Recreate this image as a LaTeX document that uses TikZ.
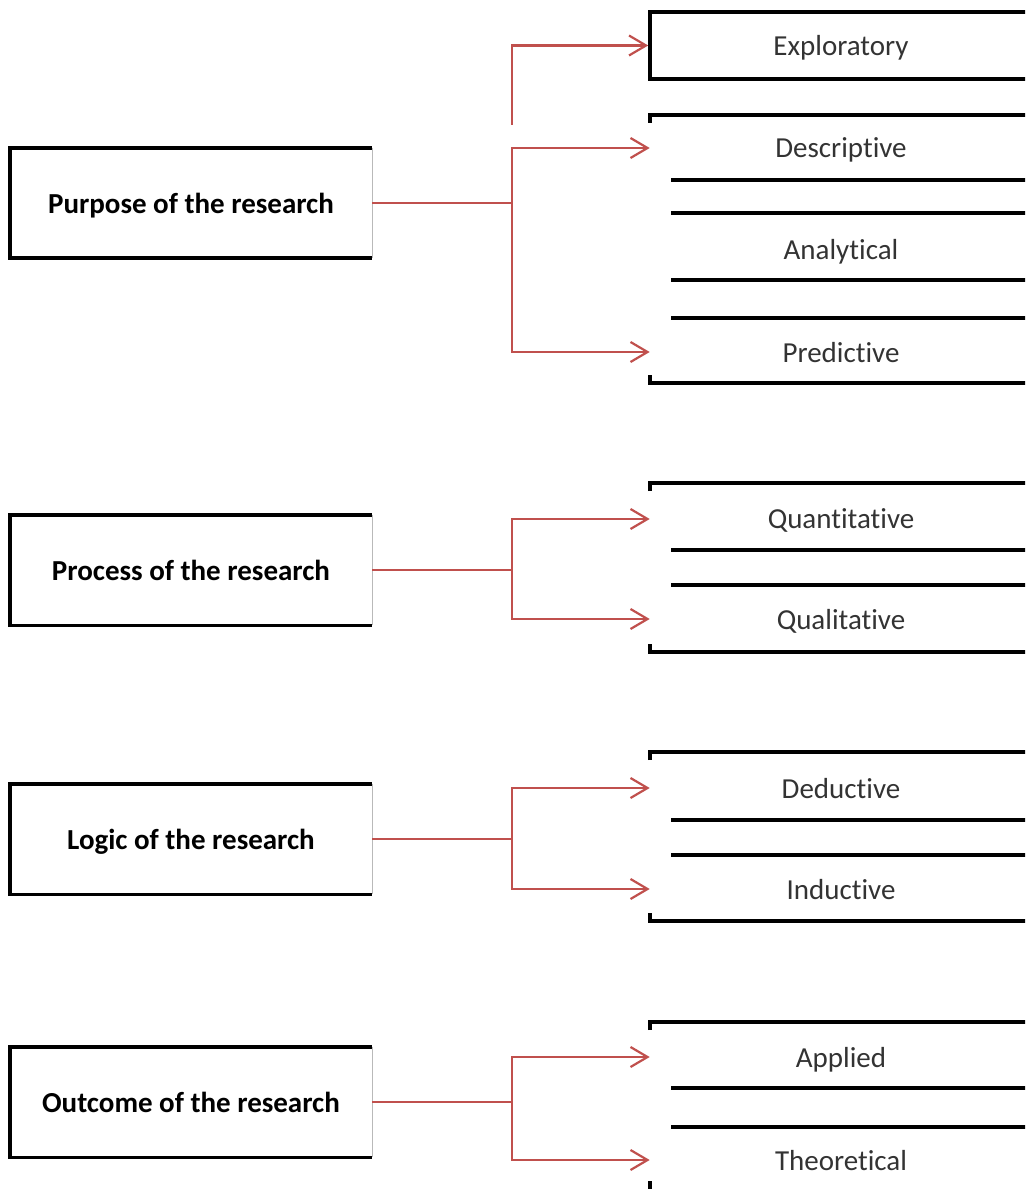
\documentclass[tikz,border=0pt]{standalone}
\usepackage{fontspec}
\setmainfont{Carlito}[RawFeature={-liga;-calt;-clig}]
\usepackage{xcolor}
\usepackage{tikz}
\usetikzlibrary{arrows.meta,positioning}
\definecolor{link}{HTML}{C0504D}
\definecolor{label}{HTML}{333333}
\tikzset{
  head/.style={draw=none, minimum width=7.24cm, minimum height=2.2cm, inner sep=0pt, text depth=0pt, font=\fontsize{16.5}{18}\selectfont\bfseries},
  item/.style={minimum width=7.64cm, inner sep=0pt, text depth=0pt, text=label, font=\fontsize{16.5}{18}\selectfont},
  frame/.style={line width=2.1pt},
  rule/.style={line width=2.1pt},
  edge/.style={draw=gray!55, line width=0.5pt},
  link/.style={draw=link, line width=1.25pt, -{Straight Barb[length=3.4mm,width=4mm]}}
}

\begin{document}
\begin{tikzpicture}[x=0.02cm,y=-0.02cm]
  \clip (0,0) rectangle (1025,1189);

  % left boxes
  \node[head] (pur) at (191,203) {Purpose of the research};
  \node[head] (pro) at (191,570) {Process of the research};
  \node[head] (log) at (191,839) {Logic of the research};
  \node[head] (out) at (191,1102) {Outcome of the research};
  \foreach \n in {pur,pro,log,out} {
    \draw[frame] (\n.north east) -| (\n.south west) -- (\n.south east);
    \draw[edge] (\n.north east) -- (\n.south east);
  }

  % right items
  \node[item, draw, line width=2.1pt, minimum height=1.34cm] (expl) at (841,45.5) {Exploratory};
  \node[item] (desc) at (841,148) {Descriptive};
  \node[item] (anal) at (841,249) {Analytical};
  \node[item] (pred) at (841,352) {Predictive};
  \node[item] (quan) at (841,519) {Quantitative};
  \node[item] (qual) at (841,619) {Qualitative};
  \node[item] (ded) at (841,788) {Deductive};
  \node[item] (ind) at (841,889) {Inductive};
  \node[item] (app) at (841,1057) {Applied};
  \node[item] (theo) at (841,1160) {Theoretical};

  % brackets and rules
  \foreach \y in {115,483,752,1022}
    \draw[rule] (650,\y+8) |- (1030,\y);
  \foreach \y in {383,652,921}
    \draw[rule] (650,\y-8) |- (1030,\y);
  \draw[rule] (650,1181) -- (650,1195);
  \foreach \y in {180,213,280,318,550,585,820,855,1088,1127}
    \draw[rule] (671,\y) -- (1030,\y);

  % connectors
  \coordinate (jpur) at (512,203);
  \coordinate (jpro) at (512,570);
  \coordinate (jlog) at (512,839);
  \coordinate (jout) at (512,1102);
  \coordinate (up) at (512,125);
  \draw[link] (up) |- (expl.west);
  \draw[link] (pur.east) -- (jpur) |- (desc.west);
  \draw[link] (pur.east) -- (jpur) |- (pred.west);
  \draw[link] (pro.east) -- (jpro) |- (quan.west);
  \draw[link] (pro.east) -- (jpro) |- (qual.west);
  \draw[link] (log.east) -- (jlog) |- (ded.west);
  \draw[link] (log.east) -- (jlog) |- (ind.west);
  \draw[link] (out.east) -- (jout) |- (app.west);
  \draw[link] (out.east) -- (jout) |- (theo.west);
\end{tikzpicture}
\end{document}
